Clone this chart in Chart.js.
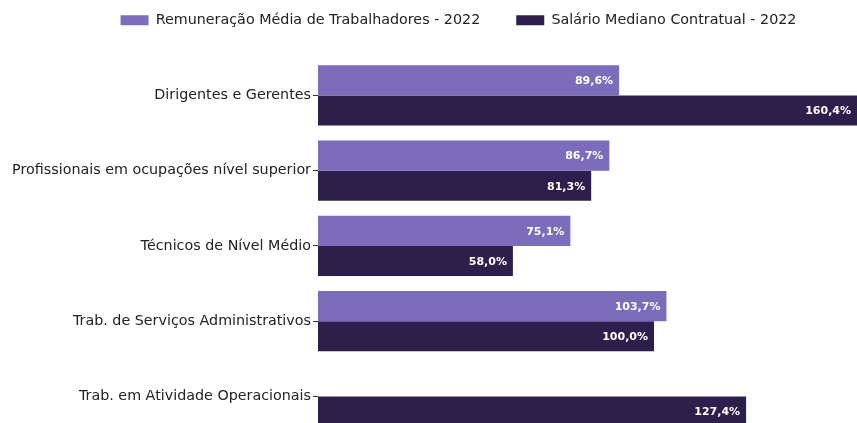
<!DOCTYPE html>
<html>
<head>
<meta charset="utf-8">
<script src="https://cdn.jsdelivr.net/npm/chart.js@4/dist/chart.umd.min.js"></script>
<style>
  html, body { margin: 0; padding: 0; background: #fff; overflow: hidden; }
  #chart { display: block; width: 857px; height: 434px; }
</style>
</head>
<body>
<canvas id="chart" width="857" height="434"></canvas>
<script>
var categories = [
    'Dirigentes e Gerentes',
    'Profissionais em ocupações nível superior',
    'Técnicos de Nível Médio',
    'Trab. de Serviços Administrativos',
    'Trab. em Atividade Operacionais'
];
var remuneracao = [89.6, 86.7, 75.1, 103.7, null];
var salario = [160.4, 81.3, 58.0, 100.0, 127.4];
var seriesNames = ['Remuneração Média de Trabalhadores - 2022', 'Salário Mediano Contratual - 2022'];

const FONT = "'DejaVu Sans', sans-serif";

// labels inside the bar end, white bold
const barLabels = {
    id: 'barLabels',
    afterDatasetsDraw(chart) {
        const ctx = chart.ctx;
        ctx.save();
        ctx.font = "bold 11px " + FONT;
        ctx.fillStyle = '#ffffff';
        ctx.textAlign = 'right';
        ctx.textBaseline = 'middle';
        chart.data.datasets.forEach((ds, i) => {
            chart.getDatasetMeta(i).data.forEach((bar, j) => {
                let v = ds.data[j];
                if (v == null) return;
                ctx.fillText(v.toFixed(1).replace('.', ',') + '%', bar.x - 6, bar.y + 1);
            });
        });
        ctx.restore();
    }
};

// legend sits a bit right of the canvas centre
const legendShift = {
    id: 'legendShift',
    afterLayout(chart) {
        if (chart.legend) chart.legend.left += 60;
    }
};

var ctx = document.getElementById('chart').getContext('2d');
var myChart = new Chart(ctx, {
    type: 'bar',
    data: {
        labels: categories,
        datasets: [{
            label: seriesNames[0],
            data: remuneracao,
            backgroundColor: '#7b6dbb',
            categoryPercentage: 0.8,
            barPercentage: 1.0
        }, {
            label: seriesNames[1],
            data: salario,
            backgroundColor: '#2d1f4b',
            categoryPercentage: 0.8,
            barPercentage: 1.0
        }]
    },
    plugins: [barLabels, legendShift],
    options: {
        indexAxis: 'y',
        responsive: false,
        animation: false,
        // canvas is taller than the window: the last category runs past the bottom edge
        layout: { padding: { left: 0, right: 0, top: -23, bottom: 0 } },
        plugins: {
            legend: {
                position: 'top',
                labels: {
                    boxWidth: 28,
                    boxHeight: 10,
                    padding: 36,
                    color: '#222',
                    font: { family: FONT, size: 14.3 }
                }
            },
            tooltip: { enabled: false }
        },
        scales: {
            x: {
                position: 'top',
                min: 0,
                max: 160.4,
                ticks: { display: false },
                grid: { display: false },
                border: { display: false },
                afterFit: function(s) { s.height = 20.5; }
            },
            y: {
                grid: {
                    offset: false,
                    drawOnChartArea: false,
                    drawTicks: true,
                    tickLength: 5,
                    color: '#333'
                },
                border: { display: false },
                ticks: {
                    color: '#222',
                    padding: 2,
                    font: { family: FONT, size: 14.3 }
                },
                afterFit: function(s) {
                    s.width = 318;
                    s.paddingBottom = 0;
                }
            }
        }
    }
});
</script>
</body>
</html>
